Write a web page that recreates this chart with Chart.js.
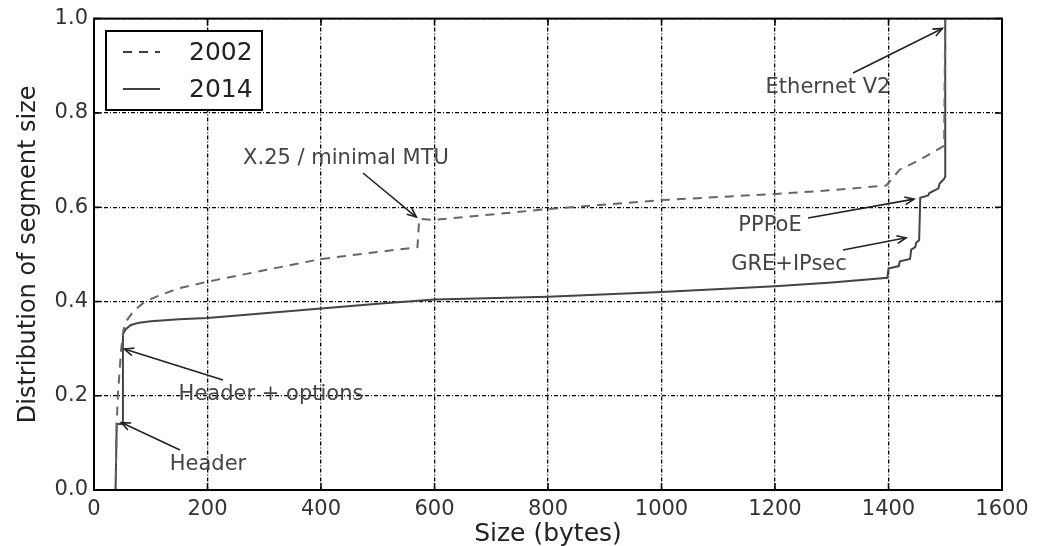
<!DOCTYPE html>
<html>
<head>
<meta charset="utf-8">
<script src="https://cdn.jsdelivr.net/npm/chart.js@4.4.1/dist/chart.umd.min.js"></script>
<style>
  html, body { margin: 0; padding: 0; background: #fff; }
  #wrap { width: 1043px; height: 546px; }
</style>
</head>
<body>
<div id="wrap"><canvas id="cdfChart" width="1043" height="546"></canvas></div>
<script>
// segment sizes (bytes) and cumulative share
const sizes2002 = [0, 38, 40, 42, 45, 48, 52, 58, 70, 90, 120, 150, 200, 300, 400, 500, 570, 573, 600, 800, 1000, 1200, 1300, 1396, 1420, 1455, 1498, 1500];
const cdf2002   = [0, 0, 0.14, 0.2, 0.25, 0.3, 0.34, 0.36, 0.38, 0.40, 0.415, 0.428, 0.442, 0.466, 0.49, 0.505, 0.515, 0.575, 0.573, 0.596, 0.615, 0.628, 0.636, 0.646, 0.68, 0.70, 0.73, 1.0];

const sizes2014 = [0, 38, 40, 50, 51, 55, 65, 80, 100, 150, 200, 300, 400, 500, 600, 800, 1000, 1200, 1300, 1398, 1400, 1418, 1420, 1438, 1440, 1447, 1449, 1454, 1456, 1470, 1472, 1488, 1490, 1498, 1500, 1500];
const cdf2014   = [0, 0, 0.14, 0.14, 0.33, 0.34, 0.35, 0.355, 0.358, 0.362, 0.365, 0.375, 0.385, 0.395, 0.404, 0.41, 0.42, 0.432, 0.44, 0.45, 0.47, 0.475, 0.485, 0.49, 0.51, 0.515, 0.525, 0.53, 0.62, 0.625, 0.63, 0.64, 0.65, 0.66, 0.665, 1.0];

const seriesNames = ['2002', '2014'];
const xTicks = [0, 200, 400, 600, 800, 1000, 1200, 1400, 1600];
const yTicks = [0.0, 0.2, 0.4, 0.6, 0.8, 1.0];

// callouts: label, where the text sits, where the arrow starts, and the data point it points at
const noteLabels = ['X.25 / minimal MTU', 'Ethernet V2', 'PPPoE', 'GRE+IPsec', 'Header + options', 'Header'];
const noteTargetX = [568, 1495, 1445, 1431, 53.5, 48];
const noteTargetY = [0.579, 0.979, 0.617, 0.535, 0.299, 0.143];
const notePlace = [
  { tx: 346, ty: 159, ax: 363, ay: 173 },
  { tx: 828, ty: 88, ax: 853, ay: 73 },
  { tx: 770, ty: 226, ax: 808, ay: 218 },
  { tx: 789, ty: 265, ax: 843, ay: 250 },
  { tx: 271, ty: 395, ax: 223, ay: 380 },
  { tx: 208, ty: 465, ax: 180, ay: 450 }
];

const FONT = '"DejaVu Sans", "Liberation Sans", sans-serif';

function toPoints(xs, ys) {
  return xs.map((x, i) => ({ x: x, y: ys[i] }));
}

const frameAndNotes = {
  id: 'frameAndNotes',
  afterDatasetsDraw(chart) {
    const ctx = chart.ctx;
    const area = chart.chartArea;
    const xs = chart.scales.x;
    const ys = chart.scales.y;

    ctx.save();
    // inward tick marks on all four sides
    ctx.strokeStyle = '#000';
    ctx.lineWidth = 1.5;
    xTicks.forEach(v => {
      const px = xs.getPixelForValue(v);
      ctx.beginPath();
      ctx.moveTo(px, area.bottom); ctx.lineTo(px, area.bottom - 7);
      ctx.moveTo(px, area.top); ctx.lineTo(px, area.top + 7);
      ctx.stroke();
    });
    yTicks.forEach(v => {
      const py = ys.getPixelForValue(v);
      ctx.beginPath();
      ctx.moveTo(area.left, py); ctx.lineTo(area.left + 7, py);
      ctx.moveTo(area.right, py); ctx.lineTo(area.right - 7, py);
      ctx.stroke();
    });

    // frame
    ctx.lineWidth = 2;
    ctx.strokeRect(area.left, area.top, area.right - area.left, area.bottom - area.top);

    // callouts
    ctx.font = '21px ' + FONT;
    ctx.textAlign = 'center';
    ctx.textBaseline = 'middle';
    noteLabels.forEach((label, i) => {
      const p = notePlace[i];
      const tipX = xs.getPixelForValue(noteTargetX[i]);
      const tipY = ys.getPixelForValue(noteTargetY[i]);
      ctx.fillStyle = '#444';
      ctx.fillText(label, p.tx, p.ty);

      ctx.strokeStyle = '#222';
      ctx.lineWidth = 1.6;
      ctx.beginPath();
      ctx.moveTo(p.ax, p.ay);
      ctx.lineTo(tipX, tipY);
      ctx.stroke();
      const ang = Math.atan2(tipY - p.ay, tipX - p.ax);
      const head = 10;
      ctx.beginPath();
      ctx.moveTo(tipX - head * Math.cos(ang - 0.4), tipY - head * Math.sin(ang - 0.4));
      ctx.lineTo(tipX, tipY);
      ctx.lineTo(tipX - head * Math.cos(ang + 0.4), tipY - head * Math.sin(ang + 0.4));
      ctx.stroke();
    });

    // legend box in the upper left corner
    const bx = 106, by = 31, bw = 156, bh = 79;
    ctx.fillStyle = '#fff';
    ctx.fillRect(bx, by, bw, bh);
    ctx.strokeStyle = '#000';
    ctx.lineWidth = 2;
    ctx.strokeRect(bx, by, bw, bh);
    ctx.font = '25px ' + FONT;
    ctx.textAlign = 'left';
    chart.data.datasets.forEach((ds, i) => {
      const ly = 52 + i * 37;
      ctx.strokeStyle = '#000';
      ctx.lineWidth = 1.5;
      ctx.setLineDash(ds.borderDash || []);
      ctx.beginPath();
      ctx.moveTo(123, ly);
      ctx.lineTo(160, ly);
      ctx.stroke();
      ctx.setLineDash([]);
      ctx.fillStyle = '#222';
      ctx.fillText(ds.label, 189, ly + 1);
    });
    ctx.restore();
  }
};

document.addEventListener('DOMContentLoaded', () => {
  const ctx = document.getElementById('cdfChart').getContext('2d');

  new Chart(ctx, {
    type: 'line',
    data: {
      datasets: [
        {
          label: seriesNames[0],
          data: toPoints(sizes2002, cdf2002),
          borderColor: '#666',
          borderWidth: 2,
          borderDash: [9, 7],
          pointRadius: 0,
          tension: 0,
          fill: false
        },
        {
          label: seriesNames[1],
          data: toPoints(sizes2014, cdf2014),
          borderColor: '#444',
          borderWidth: 2,
          pointRadius: 0,
          tension: 0,
          fill: false
        }
      ]
    },
    options: {
      responsive: false,
      animation: false,
      layout: { padding: { top: 17, right: 41, left: 0, bottom: 0 } },
      plugins: {
        legend: { display: false },
        tooltip: { enabled: false }
      },
      scales: {
        x: {
          type: 'linear',
          min: 0,
          max: 1600,
          afterFit: s => { s.height = 56; },
          afterBuildTicks: s => { s.ticks = xTicks.map(v => ({ value: v })); },
          ticks: {
            padding: 7,
            color: '#333',
            font: { family: FONT, size: 21 },
            maxRotation: 0,
            callback: v => String(v)
          },
          grid: { color: '#000', lineWidth: 1.3, drawTicks: false },
          border: { display: true, color: '#000', width: 2, dash: [4, 2, 1, 2] },
          title: {
            display: true,
            text: 'Size (bytes)',
            color: '#222',
            font: { family: FONT, size: 25 },
            padding: { top: 0, bottom: -3 }
          }
        },
        y: {
          min: 0,
          max: 1,
          afterFit: s => { s.width = 94; },
          afterBuildTicks: s => { s.ticks = yTicks.map(v => ({ value: v })); },
          ticks: {
            padding: 6,
            color: '#333',
            font: { family: FONT, size: 21 },
            callback: v => Number(v).toFixed(1)
          },
          grid: { color: '#000', lineWidth: 1.3, drawTicks: false },
          border: { display: true, color: '#000', width: 2, dash: [4, 2, 1, 2] },
          title: {
            display: true,
            text: 'Distribution of segment size',
            color: '#222',
            font: { family: FONT, size: 24 },
            padding: { top: 14, bottom: 0 }
          }
        }
      }
    },
    plugins: [frameAndNotes]
  });
});
</script>
</body>
</html>
